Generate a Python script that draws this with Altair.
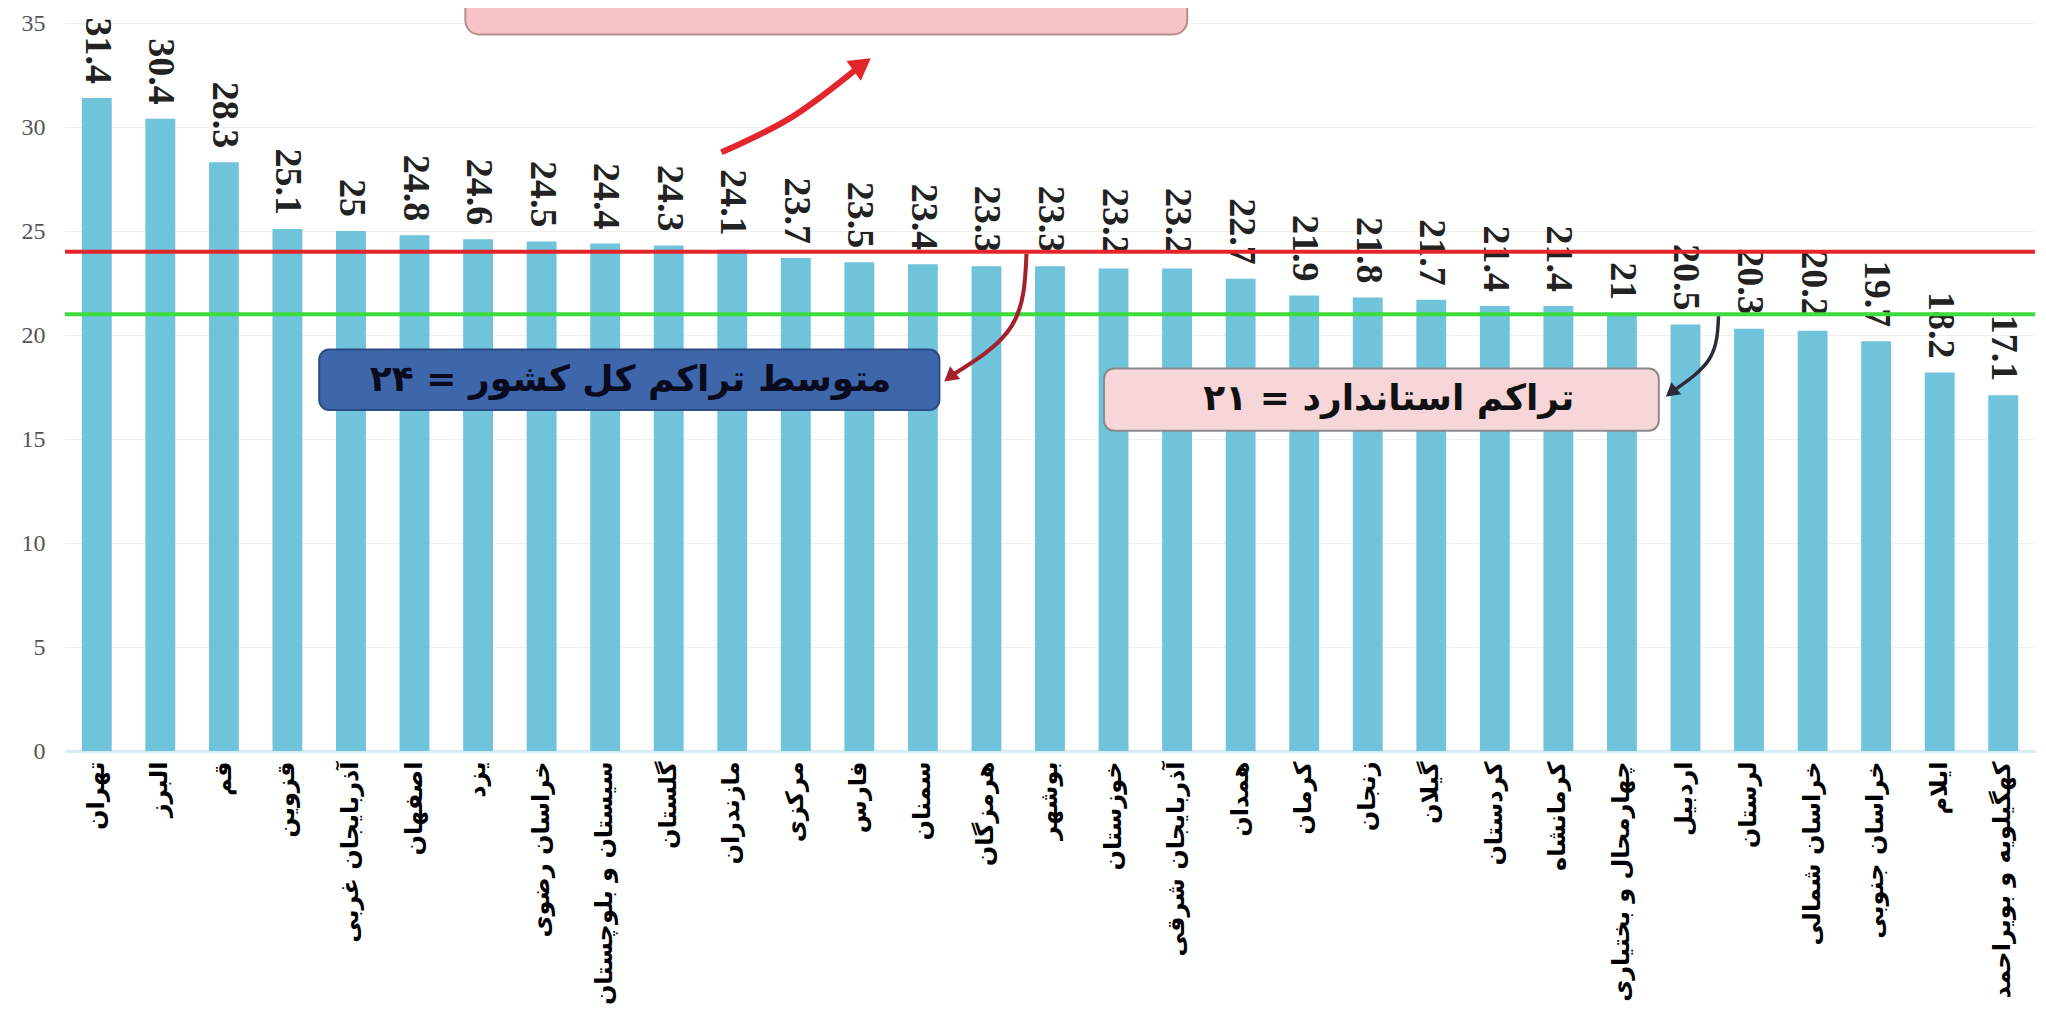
import altair as alt
import pandas as pd

provinces = [
    "تهران", "البرز", "قم", "قزوین", "آذربایجان غربی", "اصفهان", "یزد",
    "خراسان رضوی", "سیستان و بلوچستان", "گلستان", "مازندران", "مرکزی",
    "فارس", "سمنان", "هرمزگان", "بوشهر", "خوزستان", "آذربایجان شرقی",
    "همدان", "کرمان", "زنجان", "گیلان", "کردستان", "کرمانشاه",
    "چهارمحال و بختیاری", "اردبیل", "لرستان", "خراسان شمالی",
    "خراسان جنوبی", "ایلام", "کهگیلویه و بویراحمد",
]
values = [
    31.4, 30.4, 28.3, 25.1, 25, 24.8, 24.6, 24.5, 24.4, 24.3, 24.1, 23.7,
    23.5, 23.4, 23.3, 23.3, 23.2, 23.2, 22.7, 21.9, 21.8, 21.7, 21.4, 21.4,
    21, 20.5, 20.3, 20.2, 19.7, 18.2, 17.1,
]
y_ticks = [0, 5, 10, 15, 20, 25, 30, 35]
national_avg = 24
standard = 21
avg_text = "متوسط تراکم کل کشور = ۲۴"
std_text = "تراکم استاندارد = ۲۱"

# annotation geometry in (band units, value units)
avg_box = {"x": 4.0, "x2": 13.76, "y": 19.3, "y2": 16.4, "tx": 8.9, "ty": 17.85}
std_box = {"x": 16.35, "x2": 25.08, "y": 18.39, "y2": 15.4, "tx": 20.83, "ty": 16.9}
top_box = {"x": 6.3, "x2": 17.66, "y": 34.45, "y2": 37.5}
arrow_up = {"x": [10.33, 11.45, 12.5], "y": [28.78, 30.5, 32.9]}
arrow_avg = {"x": [15.13, 14.9, 13.95], "y": [23.9, 20.45, 18.05]}
arrow_std = {"x": [26.02, 25.88, 25.3], "y": [20.9, 18.87, 17.3]}

df = pd.DataFrame({
    "province": provinces,
    "value": values,
    "label": [f"{v:g}" for v in values],
})

N = len(provinces)
xq = alt.Scale(domain=[0, N], nice=False, zero=False)
yscale = alt.Scale(domain=[0, 35], nice=False)

x_band = alt.X(
    "province:N",
    sort=provinces,
    scale=alt.Scale(paddingInner=0.53, paddingOuter=0.265),
    axis=alt.Axis(
        title=None, labelAngle=270, labelAlign="right", labelBaseline="middle",
        labelFont="DejaVu Sans", labelFontWeight="bold", labelFontSize=24,
        labelColor="#000000", labelPadding=10, labelLimit=600,
        ticks=False, domain=True, domainColor="#d6ecf3", domainWidth=3,
        grid=False,
    ),
)
y_enc = alt.Y(
    "value:Q",
    scale=yscale,
    axis=alt.Axis(
        title=None, values=y_ticks, labelFont="Liberation Serif",
        labelFontSize=24, labelColor="#555555", labelPadding=20,
        ticks=False, domain=False, grid=True, gridColor="#eeeeee",
        gridWidth=1,
    ),
)

bars = alt.Chart(df).mark_bar(color="#6fc3db").encode(x=x_band, y=y_enc)

labels = alt.Chart(df).mark_text(
    angle=90, align="right", baseline="middle", dx=-14,
    font="Liberation Serif", fontWeight="bold", fontSize=38, color="#222222",
).encode(x=alt.X("province:N", sort=provinces), y=alt.Y("value:Q", scale=yscale), text="label:N")

band_layer = alt.layer(bars, labels)

lines_df = pd.DataFrame({"v": [national_avg, standard], "c": ["avg", "std"]})
red_rule = alt.Chart(lines_df.iloc[[0]]).mark_rule(color="#e3262b", strokeWidth=4).encode(
    y=alt.Y("v:Q", scale=yscale))
green_rule = alt.Chart(lines_df.iloc[[1]]).mark_rule(color="#3ddc3d", strokeWidth=4).encode(
    y=alt.Y("v:Q", scale=yscale))


def box(d, fill, stroke, radius):
    bdf = pd.DataFrame([d])
    return alt.Chart(bdf).mark_rect(
        fill=fill, stroke=stroke, strokeWidth=2, cornerRadius=radius,
    ).encode(
        x=alt.X("x:Q", scale=xq, axis=None),
        x2="x2:Q",
        y=alt.Y("y:Q", scale=yscale),
        y2="y2:Q",
    )


def box_text(d, text, color):
    tdf = pd.DataFrame([{"tx": d["tx"], "ty": d["ty"], "t": text}])
    return alt.Chart(tdf).mark_text(
        font="DejaVu Sans", fontWeight="bold", fontSize=36, color=color,
        align="center", baseline="middle",
    ).encode(
        x=alt.X("tx:Q", scale=xq, axis=None),
        y=alt.Y("ty:Q", scale=yscale),
        text="t:N",
    )


def arrow(a, color, angle, width, size):
    adf = pd.DataFrame({"x": a["x"], "y": a["y"], "o": list(range(len(a["x"])))})
    line = alt.Chart(adf).mark_line(color=color, strokeWidth=width, interpolate="natural").encode(
        x=alt.X("x:Q", scale=xq, axis=None),
        y=alt.Y("y:Q", scale=yscale),
        order="o:O",
    )
    head = alt.Chart(adf.iloc[[-1]]).mark_point(
        shape="triangle", filled=True, color=color, size=size, angle=angle, opacity=1,
    ).encode(
        x=alt.X("x:Q", scale=xq, axis=None),
        y=alt.Y("y:Q", scale=yscale),
    )
    return line + head


annot = alt.layer(
    box(top_box, "#f8c3c6", "#b98d8f", 14),
    box(avg_box, "#3e66aa", "#2c4c85", 10),
    box_text(avg_box, avg_text, "#0a0a1e"),
    box(std_box, "#f6d6d9", "#8a8a8a", 10),
    box_text(std_box, std_text, "#111111"),
    arrow(arrow_up, "#e3262b", 54, 6, 600),
    arrow(arrow_avg, "#a3202e", 231, 4, 260),
    arrow(arrow_std, "#2b2b3b", 231, 3.5, 240),
)

chart = alt.layer(
    band_layer, red_rule, green_rule, annot,
).resolve_scale(x="independent").properties(
    width=1970, height=728,
    padding={"left": 57, "top": 15, "right": 2, "bottom": 262},
    autosize=alt.AutoSizeParams(type="none"),
    background="#ffffff",
).configure_view(strokeWidth=0)

chart.save("out.html", embed_options={"renderer": "svg", "actions": False})
